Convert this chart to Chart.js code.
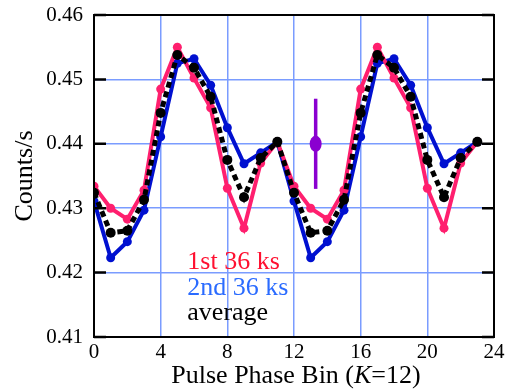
<!DOCTYPE html>
<html>
<head>
<meta charset="utf-8">
<script src="https://cdn.jsdelivr.net/npm/chart.js@4.4.1/dist/chart.umd.min.js"></script>
<style>
  body { margin: 0; background: #fff; }
  #wrap { width: 512px; height: 389px; }
</style>
</head>
<body>
<div id="wrap"><canvas id="myChart"></canvas></div>
<script>
// pulse phase bins, two cycles (K=12)
const phaseBins = [0, 1, 2, 3, 4, 5, 6, 7, 8, 9, 10, 11,
                   12, 13, 14, 15, 16, 17, 18, 19, 20, 21, 22, 23];
const firstRate = [0.4334, 0.4300, 0.4283, 0.4328, 0.4485, 0.4550, 0.4502, 0.4456, 0.4331, 0.4269, 0.4370, 0.4403,
                   0.4334, 0.4300, 0.4283, 0.4328, 0.4485, 0.4550, 0.4502, 0.4456, 0.4331, 0.4269, 0.4370, 0.4403];
const secondRate = [0.4311, 0.4223, 0.4248, 0.4297, 0.4411, 0.4525, 0.4532, 0.4491, 0.4425, 0.4369, 0.4386, 0.4403,
                    0.4311, 0.4223, 0.4248, 0.4297, 0.4411, 0.4525, 0.4532, 0.4491, 0.4425, 0.4369, 0.4386, 0.4403];
const avgRate = [0.4324, 0.4262, 0.4265, 0.4313, 0.4448, 0.4538, 0.4518, 0.4473, 0.4375, 0.4317, 0.4378, 0.4403,
                 0.4324, 0.4262, 0.4265, 0.4313, 0.4448, 0.4538, 0.4518, 0.4473, 0.4375, 0.4317, 0.4378, 0.4403];
// typical error bar
const errX = [13.3];
const errY = [0.4400];
const errSize = [0.0070];

const xTicks = [0, 4, 8, 12, 16, 20, 24];
const yTicks = [0.41, 0.42, 0.43, 0.44, 0.45, 0.46];
const legendLabels = ["1st 36 ks", "2nd 36 ks", "average"];

const SERIF = "'Liberation Serif', 'DejaVu Serif', serif";

function pts(ys) {
    return phaseBins.map(function (x, i) { return { x: x, y: ys[i] }; });
}

// black frame, inward ticks, error bar, legend text, x title
const extras = {
    id: 'extras',
    afterDatasetsDraw: function (chart) {
        const ctx = chart.ctx;
        const xs = chart.scales.x, ys = chart.scales.y;
        const a = chart.chartArea;

        // error bar
        ctx.save();
        ctx.strokeStyle = '#8a00d0';
        ctx.lineWidth = 3.5;
        for (var i = 0; i < errX.length; i++) {
            var px = xs.getPixelForValue(errX[i]);
            ctx.beginPath();
            ctx.moveTo(px, ys.getPixelForValue(errY[i] - errSize[i]));
            ctx.lineTo(px, ys.getPixelForValue(errY[i] + errSize[i]));
            ctx.stroke();
            ctx.fillStyle = '#8a00d0';
            ctx.beginPath();
            ctx.ellipse(px, ys.getPixelForValue(errY[i]), 6, 8, 0, 0, Math.PI * 2);
            ctx.fill();
        }
        ctx.restore();

        // frame and ticks
        ctx.save();
        ctx.strokeStyle = '#000';
        ctx.lineWidth = 2;
        ctx.strokeRect(a.left, a.top, a.right - a.left, a.bottom - a.top);
        ctx.lineWidth = 2.5;
        yTicks.forEach(function (v) {
            var py = ys.getPixelForValue(v);
            ctx.beginPath();
            ctx.moveTo(a.left, py); ctx.lineTo(a.left + 12, py);
            ctx.moveTo(a.right, py); ctx.lineTo(a.right - 12, py);
            ctx.stroke();
        });
        ctx.restore();

        // legend text
        ctx.save();
        ctx.font = '26px ' + SERIF;
        ctx.textBaseline = 'alphabetic';
        ctx.textAlign = 'left';
        var lx = xs.getPixelForValue(5.6);
        ctx.fillStyle = '#ff1030';
        ctx.fillText(legendLabels[0], lx, 269);
        ctx.fillStyle = '#2a6bff';
        ctx.fillText(legendLabels[1], lx, 295);
        ctx.fillStyle = '#000';
        ctx.fillText(legendLabels[2], lx, 320);
        ctx.restore();

        // x axis title with italic K
        ctx.save();
        ctx.fillStyle = '#000';
        ctx.textBaseline = 'alphabetic';
        var parts = [['Pulse Phase Bin (', '26px '], ['K', 'italic 26px '], ['=12)', '26px ']];
        var total = 0;
        parts.forEach(function (p) { ctx.font = p[1] + SERIF; total += ctx.measureText(p[0]).width; });
        var cx = (a.left + a.right) / 2 - total / 2 + 2;
        parts.forEach(function (p) {
            ctx.font = p[1] + SERIF;
            ctx.fillText(p[0], cx, 383);
            cx += ctx.measureText(p[0]).width;
        });
        ctx.restore();
    }
};

const ctx = document.getElementById('myChart').getContext('2d');
const chart = new Chart(ctx, {
    type: 'line',
    data: {
        datasets: [
            {
                label: 'average',
                data: pts(avgRate),
                borderColor: '#000',
                backgroundColor: '#000',
                borderWidth: 5,
                borderDash: [6, 4],
                pointRadius: 5,
                pointBorderWidth: 0,
                order: 0
            },
            {
                label: '1st 36 ks',
                data: pts(firstRate),
                borderColor: '#ff1f6e',
                backgroundColor: '#ff1f6e',
                borderWidth: 4,
                pointRadius: 4.5,
                pointBorderWidth: 0,
                order: 1
            },
            {
                label: '2nd 36 ks',
                data: pts(secondRate),
                borderColor: '#0010d0',
                backgroundColor: '#0010d0',
                borderWidth: 4,
                pointRadius: 4.5,
                pointBorderWidth: 0,
                order: 2
            }
        ]
    },
    options: {
        responsive: true,
        maintainAspectRatio: false,
        animation: false,
        layout: { padding: { top: 15, right: 18, left: 0, bottom: 0 } },
        plugins: { legend: { display: false }, tooltip: { enabled: false } },
        elements: { line: { tension: 0 } },
        scales: {
            x: {
                type: 'linear',
                min: 0, max: 24,
                afterBuildTicks: function (s) { s.ticks = xTicks.map(function (v) { return { value: v }; }); },
                grid: { color: '#7a9cff', lineWidth: 1.5, drawTicks: false },
                border: { display: false },
                ticks: { color: '#000', font: { family: SERIF, size: 21 }, padding: 3, maxRotation: 0 },
                afterFit: function (s) { s.height = 52; s.paddingLeft = 0; s.paddingRight = 0; }
            },
            y: {
                min: 0.41, max: 0.46,
                afterBuildTicks: function (s) { s.ticks = yTicks.map(function (v) { return { value: v }; }); },
                grid: { color: '#7a9cff', lineWidth: 1.5, drawTicks: false },
                border: { display: false },
                ticks: {
                    color: '#000', font: { family: SERIF, size: 21 }, padding: 11,
                    callback: function (v) { return v.toFixed(2); }
                },
                title: { display: true, text: 'Counts/s', color: '#000', font: { family: SERIF, size: 26 }, padding: { top: 10, bottom: 0 } },
                afterFit: function (s) { s.width = 94; s.paddingTop = 0; s.paddingBottom = 0; }
            }
        }
    },
    plugins: [extras]
});
</script>
</body>
</html>
